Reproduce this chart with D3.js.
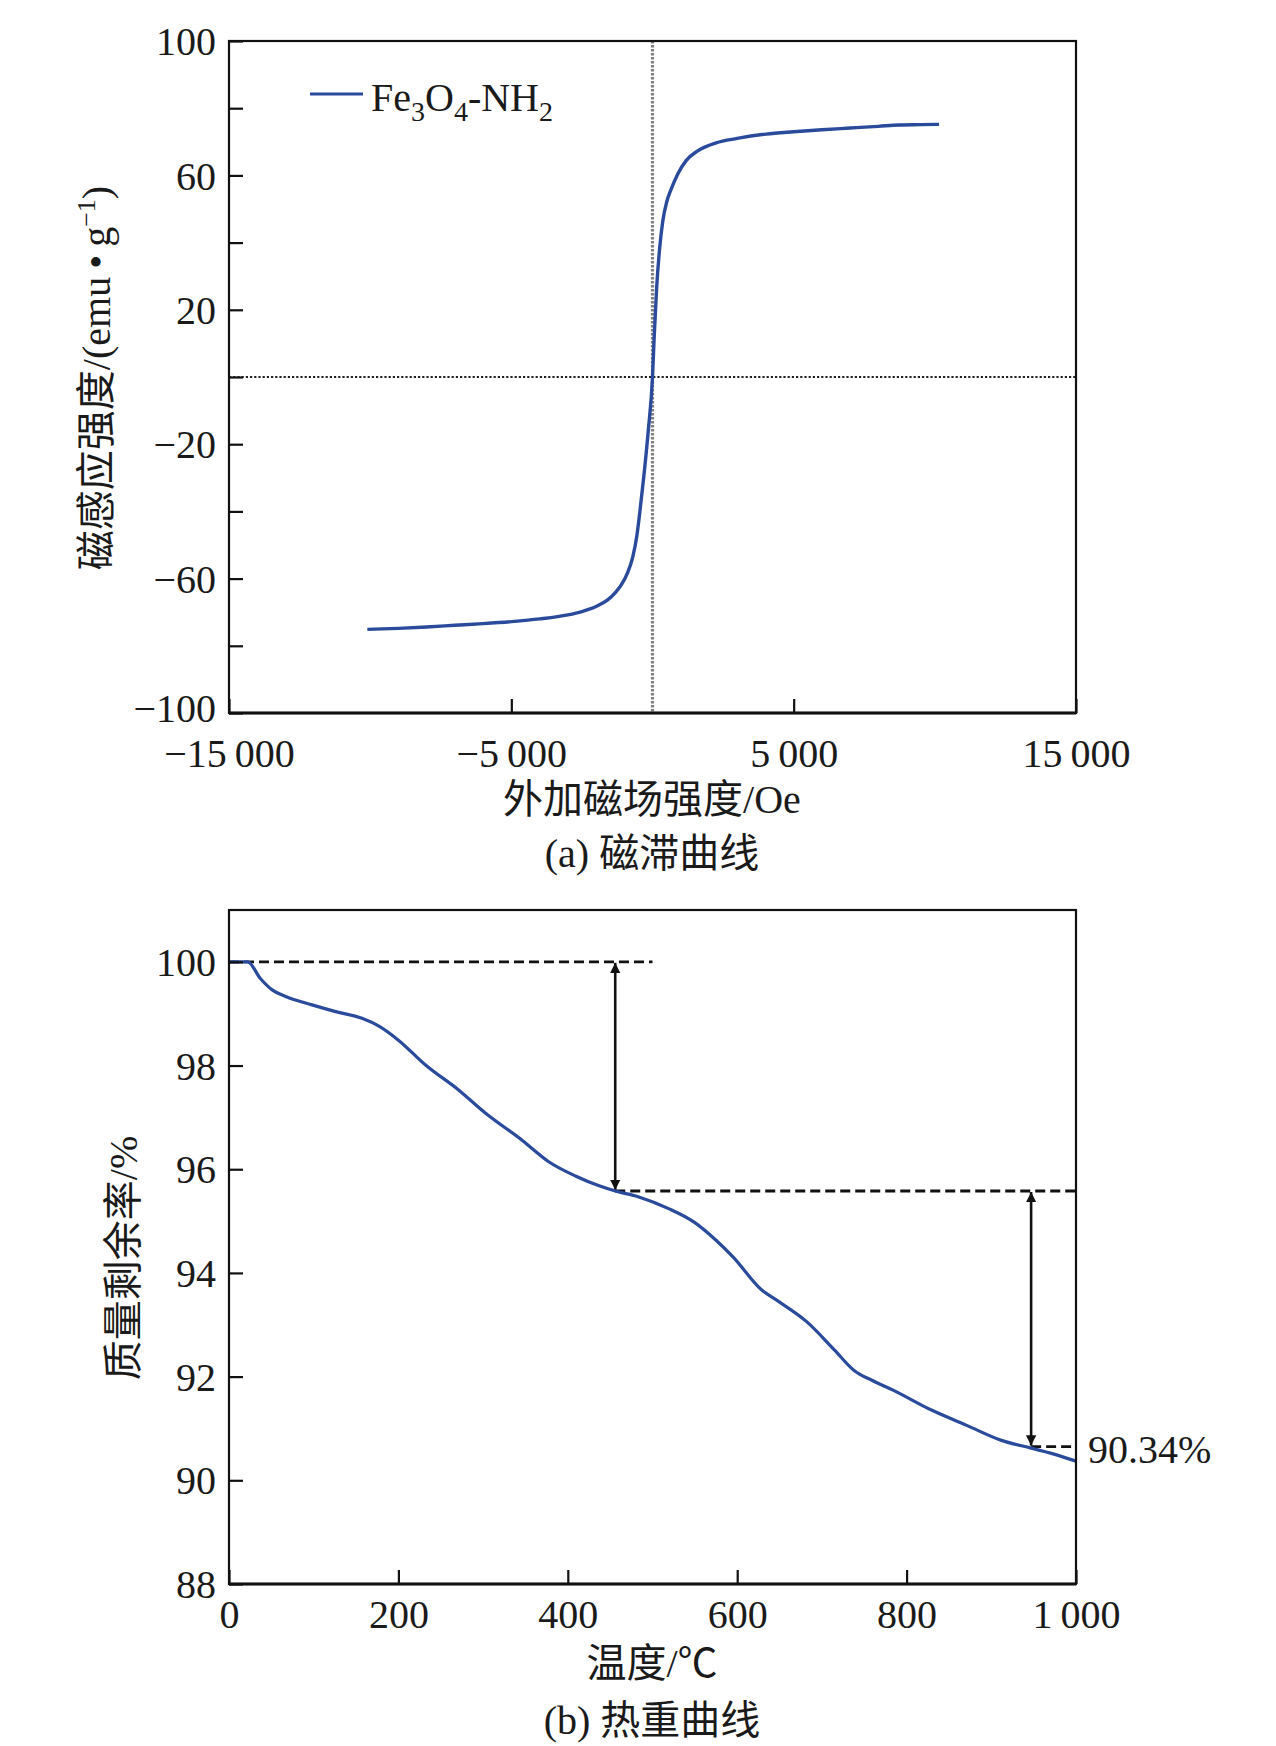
<!DOCTYPE html>
<html>
<head>
<meta charset="utf-8">
<script src="https://cdn.jsdelivr.net/npm/d3@7/dist/d3.min.js"></script>
<style>
  html, body { margin: 0; padding: 0; background: #fff; }
  svg { display: block; }
  text { font-family: "Liberation Serif", "Noto Sans CJK SC", serif; fill: #1a1a1a; }
</style>
</head>
<body>
<svg id="chart" width="1276" height="1746"></svg>
<script>
// ---------- Data: (a) hysteresis loop ----------
const mhField  = [-10100, -9000, -8000, -7000, -6000, -5000, -4000, -3000, -2500, -2000, -1600, -1300, -1100, -900, -700, -550, -460, -300, -150, 0, 60, 150, 250, 366, 500, 661, 900, 1191, 1600, 2253, 3000, 4023, 5000, 6000, 7000, 8000, 8739, 9500, 10150];
const mhMoment = [-75.1, -74.8, -74.4, -73.9, -73.4, -72.8, -72.0, -70.8, -69.8, -68.3, -66.4, -64.0, -61.8, -58.6, -53.6, -47.0, -41.0, -29.0, -16.0, 0, 12, 27, 38, 46.5, 52.0, 55.9, 60.5, 64.4, 67.3, 69.7, 71.0, 72.3, 73.0, 73.6, 74.1, 74.6, 75.0, 75.1, 75.2];
const mhXTicks = [-15000, -5000, 5000, 15000];
const mhXTickLabels = ["\u221215\u2009000", "\u22125\u2009000", "5\u2009000", "15\u2009000"];
const mhYTicks = [-100, -80, -60, -40, -20, 0, 20, 40, 60, 80, 100];
const mhYLabeled = [-100, -60, -20, 20, 60, 100];
const legendLabel = ["Fe", "3", "O", "4", "-NH", "2"];

// ---------- Data: (b) TGA ----------
const tgaTemp = [0, 22, 37, 51, 67, 98, 126, 157, 177, 200, 232, 271, 303, 346, 377, 409, 437, 456, 483, 519, 550, 575, 595, 629, 647, 682, 715, 738, 759, 784, 830, 871, 912, 947, 973, 1000];
const tgaMass = [100, 100, 99.68, 99.46, 99.33, 99.17, 99.04, 98.91, 98.76, 98.49, 98.01, 97.53, 97.08, 96.56, 96.15, 95.87, 95.68, 95.58, 95.47, 95.24, 94.97, 94.63, 94.31, 93.67, 93.47, 93.06, 92.51, 92.12, 91.93, 91.74, 91.35, 91.06, 90.77, 90.62, 90.51, 90.37];
const tgaXTicks = [0, 200, 400, 600, 800, 1000];
const tgaXTickLabels = ["0", "200", "400", "600", "800", "1\u2009000"];
const tgaYTicks = [88, 90, 92, 94, 96, 98, 100];
const tgaDashX1 = [0, 456, 947];
const tgaDashX2 = [500, 1000, 1000];
const tgaDashY  = [100, 95.58, 90.65];
const tgaArrowX  = [456, 947];
const tgaArrowY1 = [100, 95.58];
const tgaArrowY2 = [95.58, 90.65];
const tgaFinalLabel = "90.34%";

const svg = d3.select("#chart");
const blue = "#2a4a9c";
const FS = 40;

svg.append("defs").append("marker")
  .attr("id", "ah").attr("viewBox", "0 0 10 10")
  .attr("refX", 10).attr("refY", 5)
  .attr("markerWidth", 4).attr("markerHeight", 5)
  .attr("markerUnits", "strokeWidth")
  .attr("orient", "auto-start-reverse")
  .append("path").attr("d", "M0,0 L10,5 L0,10 Z").attr("fill", "#111");

// ================= (a) =================
const A = { left: 229, right: 1076, top: 41, bottom: 713 };
const xA = d3.scaleLinear().domain([-15000, 15000]).range([A.left, A.right]);
const yA = d3.scaleLinear().domain([-100, 100]).range([A.bottom, A.top]);
const gA = svg.append("g");

// dotted reference lines
gA.append("line").attr("x1", xA(-15000)).attr("x2", xA(15000)).attr("y1", yA(0)).attr("y2", yA(0))
  .attr("stroke", "#222").attr("stroke-width", 2.2).attr("stroke-dasharray", "2.2,2");
gA.append("line").attr("x1", xA(0)).attr("x2", xA(0)).attr("y1", yA(100)).attr("y2", yA(-100))
  .attr("stroke", "#808080").attr("stroke-width", 3.2).attr("stroke-dasharray", "2.5,1.5");

// curve
const mhData = mhField.map((f, i) => [f, mhMoment[i]]);
gA.append("path").datum(mhData)
  .attr("d", d3.line().x(d => xA(d[0])).y(d => yA(d[1])).curve(d3.curveMonotoneX))
  .attr("fill", "none").attr("stroke", blue).attr("stroke-width", 3.4);

// axes
const yAxisA = d3.axisLeft(yA).tickValues(mhYTicks).tickSize(-14).tickPadding(13)
  .tickFormat(d => mhYLabeled.includes(d) ? (d < 0 ? "\u2212" + Math.abs(d) : String(d)) : "");
const gyA = gA.append("g").attr("transform", `translate(${A.left},0)`).call(yAxisA);
const xAxisA = d3.axisBottom(xA).tickValues(mhXTicks).tickSize(-14).tickPadding(0)
  .tickFormat((d, i) => mhXTickLabels[i]);
const gxA = gA.append("g").attr("transform", `translate(0,${A.bottom})`).call(xAxisA);
[gyA, gxA].forEach(g => {
  g.select(".domain").remove();
  g.selectAll(".tick line").attr("stroke", "#111").attr("stroke-width", 2.2);
  g.selectAll(".tick text").attr("font-size", FS).attr("fill", "#1a1a1a")
    .attr("font-family", "Liberation Serif");
});
gxA.selectAll(".tick text").attr("dy", null).attr("y", 54);
gyA.selectAll(".tick text").attr("dy", "0.34em");
gyA.selectAll(".tick").filter(d => d === -100).select("text").attr("y", -5);
// frame
gA.append("rect").attr("x", A.left).attr("y", A.top).attr("width", A.right - A.left).attr("height", A.bottom - A.top)
  .attr("fill", "none").attr("stroke", "#111").attr("stroke-width", 2.2);
gA.append("line").attr("x1", A.left).attr("x2", A.right).attr("y1", A.bottom).attr("y2", A.bottom)
  .attr("stroke", "#111").attr("stroke-width", 3.2);

// legend
gA.append("line").attr("x1", 310).attr("x2", 363).attr("y1", 94).attr("y2", 94)
  .attr("stroke", blue).attr("stroke-width", 3.2);
const lt = gA.append("text").attr("x", 371).attr("y", 111).attr("font-size", FS);
legendLabel.forEach((s, i) => {
  const sub = i % 2 === 1;
  lt.append("tspan").text(s)
    .attr("font-size", sub ? 28 : FS)
    .attr("dy", sub ? 10 : (i === 0 ? 0 : -10));
});

// axis titles
const ytA = gA.append("text").attr("transform", `translate(110,378) rotate(-90)`)
  .attr("text-anchor", "middle").attr("font-size", FS);
ytA.append("tspan").text("磁感应强度/(emu\u2009\u2022\u2009g");
ytA.append("tspan").text("\u22121").attr("font-size", 26).attr("dy", -15);
ytA.append("tspan").text(")").attr("dy", 15);
gA.append("text").attr("x", 652).attr("y", 813).attr("text-anchor", "middle").attr("font-size", FS)
  .text("外加磁场强度/Oe");
gA.append("text").attr("x", 652).attr("y", 867).attr("text-anchor", "middle").attr("font-size", FS)
  .text("(a) 磁滞曲线");

// ================= (b) =================
const B = { left: 229, right: 1076, top: 910, bottom: 1584 };
const xB = d3.scaleLinear().domain([0, 1000]).range([B.left, B.right]);
const yB = d3.scaleLinear().domain([88, 101]).range([B.bottom, B.top]);
const gB = svg.append("g");

// dashed guides
tgaDashY.forEach((v, i) => {
  gB.append("line").attr("x1", xB(tgaDashX1[i])).attr("x2", xB(tgaDashX2[i]))
    .attr("y1", yB(v)).attr("y2", yB(v))
    .attr("stroke", "#111").attr("stroke-width", 2.8).attr("stroke-dasharray", "10,5");
});
// arrows
tgaArrowX.forEach((v, i) => {
  gB.append("line").attr("x1", xB(v)).attr("x2", xB(v))
    .attr("y1", yB(tgaArrowY1[i]) + 1).attr("y2", yB(tgaArrowY2[i]) - 1)
    .attr("stroke", "#111").attr("stroke-width", 2.6)
    .attr("marker-start", "url(#ah)").attr("marker-end", "url(#ah)");
});

// curve
const tgaData = tgaTemp.map((t, i) => [t, tgaMass[i]]);
gB.append("path").datum(tgaData)
  .attr("d", d3.line().x(d => xB(d[0])).y(d => yB(d[1])).curve(d3.curveMonotoneX))
  .attr("fill", "none").attr("stroke", blue).attr("stroke-width", 3.2);

const yAxisB = d3.axisLeft(yB).tickValues(tgaYTicks).tickSize(-14).tickPadding(13).tickFormat(d => String(d));
const gyB = gB.append("g").attr("transform", `translate(${B.left},0)`).call(yAxisB);
const xAxisB = d3.axisBottom(xB).tickValues(tgaXTicks).tickSize(-14).tickPadding(0)
  .tickFormat((d, i) => tgaXTickLabels[i]);
const gxB = gB.append("g").attr("transform", `translate(0,${B.bottom})`).call(xAxisB);
[gyB, gxB].forEach(g => {
  g.select(".domain").remove();
  g.selectAll(".tick line").attr("stroke", "#111").attr("stroke-width", 2.2);
  g.selectAll(".tick text").attr("font-size", FS).attr("fill", "#1a1a1a")
    .attr("font-family", "Liberation Serif");
});
gxB.selectAll(".tick text").attr("dy", null).attr("y", 44);
gyB.selectAll(".tick text").attr("dy", "0.34em");
gB.append("rect").attr("x", B.left).attr("y", B.top).attr("width", B.right - B.left).attr("height", B.bottom - B.top)
  .attr("fill", "none").attr("stroke", "#111").attr("stroke-width", 2.2);
gB.append("line").attr("x1", B.left).attr("x2", B.right).attr("y1", B.bottom).attr("y2", B.bottom)
  .attr("stroke", "#111").attr("stroke-width", 3.2);

gB.append("text").attr("x", B.right + 12).attr("y", 1463).attr("font-size", FS).text(tgaFinalLabel);

gB.append("text").attr("transform", `translate(137,1258) rotate(-90)`)
  .attr("text-anchor", "middle").attr("font-size", FS).text("质量剩余率/%");
gB.append("text").attr("x", 652).attr("y", 1677).attr("text-anchor", "middle").attr("font-size", FS)
  .text("温度/℃");
gB.append("text").attr("x", 652).attr("y", 1734).attr("text-anchor", "middle").attr("font-size", FS)
  .text("(b) 热重曲线");
</script>
</body>
</html>
